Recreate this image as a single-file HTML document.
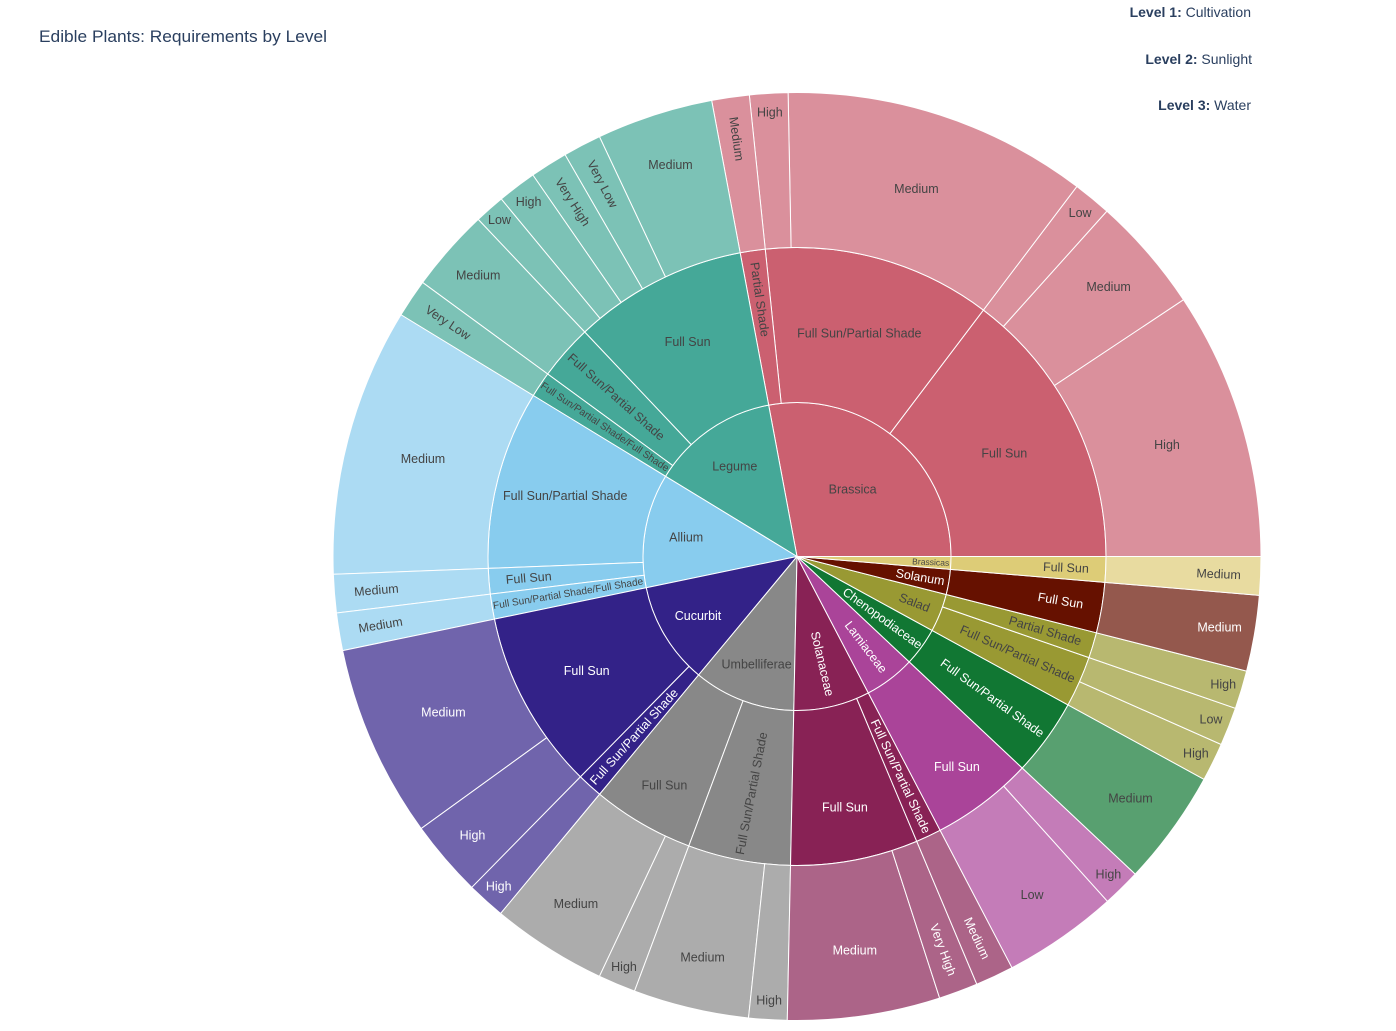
<!DOCTYPE html>
<html><head><meta charset="utf-8"><style>
html,body{margin:0;padding:0;background:#fff;}
svg{display:block;font-family:"Liberation Sans",sans-serif;}
</style></head><body>
<svg id="s" width="1396" height="1031" viewBox="0 0 1396 1031" xmlns="http://www.w3.org/2000/svg">
<text x="39" y="42" font-size="17" fill="#2a3f5f" textLength="288" lengthAdjust="spacingAndGlyphs">Edible Plants: Requirements by Level</text>
<text x="1251" y="17" font-size="14" fill="#2a3f5f" text-anchor="end"><tspan font-weight="bold">Level 1:</tspan> Cultivation</text>
<text x="1252" y="64" font-size="14" fill="#2a3f5f" text-anchor="end"><tspan font-weight="bold">Level 2:</tspan> Sunlight</text>
<text x="1251" y="110" font-size="14" fill="#2a3f5f" text-anchor="end"><tspan font-weight="bold">Level 3:</tspan> Water</text>
<g id="g"></g>
</svg>
<script>
var CX=797,CY=556.5,R=[0,154,309,464];
var D=[
["Brassica",0,100.6,"#CB6070","#DA909C",[
 ["Full Sun",0,52.9,[["High",0,33.6],["Medium",33.6,48.1],["Low",48.1,52.9]]],
 ["Full Sun/Partial Shade",52.9,95.9,[["Medium",52.9,91.1],["High",91.1,95.9]]],
 ["Partial Shade",95.9,100.6,[["Medium",95.9,100.6]]]]],
["Legume",100.6,148.6,"#45A898","#7CC2B6",[
 ["Full Sun",100.6,133.4,[["Medium",100.6,115.2],["Very Low",115.2,120],["Very High",120,124.7],["High",124.7,129.6],["Low",129.6,133.4]]],
 ["Full Sun/Partial Shade",133.4,143.8,[["Medium",133.4,143.8]]],
 ["Full Sun/Partial Shade/Full Shade",143.8,148.6,[["Very Low",143.8,148.6]]]]],
["Allium",148.6,191.7,"#88CCEE","#ACDBF3",[
 ["Full Sun/Partial Shade",148.6,182.2,[["Medium",148.6,182.2]]],
 ["Full Sun",182.2,187,[["Medium",182.2,187]]],
 ["Full Sun/Partial Shade/Full Shade",187,191.7,[["Medium",187,191.7]]]]],
["Cucurbit",191.7,230.3,"#332288","#7064AC",[
 ["Full Sun",191.7,225.5,[["Medium",191.7,215.9],["High",215.9,225.5]]],
 ["Full Sun/Partial Shade",225.5,230.3,[["High",225.5,230.3]]]]],
["Umbelliferae",230.3,268.8,"#888888","#ACACAC",[
 ["Full Sun",230.3,249.5,[["Medium",230.3,244.8],["High",244.8,249.5]]],
 ["Full Sun/Partial Shade",249.5,268.8,[["Medium",249.5,264],["High",264,268.8]]]]],
["Solanaceae",268.8,297.6,"#882255","#AC6488",[
 ["Full Sun",268.8,292.8,[["Medium",268.8,287.9],["Very High",287.9,292.8]]],
 ["Full Sun/Partial Shade",292.8,297.6,[["Medium",292.8,297.6]]]]],
["Lamiaceae",297.6,316.8,"#AA4499","#C47CB8",[
 ["Full Sun",297.6,316.8,[["Low",297.6,312],["High",312,316.8]]]]],
["Chenopodiaceae",316.8,331.3,"#117733","#58A070",[
 ["Full Sun/Partial Shade",316.8,331.3,[["Medium",316.8,331.3]]]]],
["Salad",331.3,345.7,"#999933","#B8B870",[
 ["Full Sun/Partial Shade",331.3,340.9,[["High",331.3,336.1],["Low",336.1,340.9]]],
 ["Partial Shade",340.9,345.7,[["High",340.9,345.7]]]]],
["Solanum",345.7,355.2,"#661100","#94584D",[
 ["Full Sun",345.7,355.2,[["Medium",345.7,355.2]]]]],
["Brassicas",355.2,360,"#DDCC77","#E8DBA0",[
 ["Full Sun",355.2,360,[["Medium",355.2,360]]]]]
];
var g=document.getElementById('g'),NS="http://www.w3.org/2000/svg";
var cv=document.createElement('canvas').getContext('2d');
var FS=12.5;
function P(r,a){a=a*Math.PI/180;return [CX+r*Math.cos(a),CY-r*Math.sin(a)];}
function wedge(r0,r1,a0,a1,fill){
 var p=document.createElementNS(NS,'path');var big=(a1-a0)>180?1:0;var d;
 var A=P(r1,a0),B=P(r1,a1);
 if(r0==0){d="M"+CX+","+CY+"L"+A+"A"+r1+","+r1+" 0 "+big+" 0 "+B+"Z";}
 else{var C=P(r0,a1),E=P(r0,a0);d="M"+A+"A"+r1+","+r1+" 0 "+big+" 0 "+B+"L"+C+"A"+r0+","+r0+" 0 "+big+" 1 "+E+"Z";}
 p.setAttribute('d',d);p.setAttribute('fill',fill);p.setAttribute('stroke','#fff');p.setAttribute('stroke-width','1');g.appendChild(p);}
function bright(h){var r=parseInt(h.substr(1,2),16),gg=parseInt(h.substr(3,2),16),b=parseInt(h.substr(5,2),16);return (r*299+gg*587+b*114)/1000;}
function inside(x,y,r0,r1,a0,a1){var dx=x-CX,dy=CY-y;var r=Math.sqrt(dx*dx+dy*dy);if(r<r0||r>r1)return false;if(r<2)return true;var a=Math.atan2(dy,dx)*180/Math.PI;if(a<0)a+=360;if(a1>=359.99&&a<1)a+=360;return a>=a0&&a<=a1;}
function fits(cx,cy,w,h,rot,r0,r1,a0,a1){var c=Math.cos(rot*Math.PI/180),s=Math.sin(rot*Math.PI/180);
 for(var i=-1;i<=1;i+=0.25)for(var j=-1;j<=1;j+=1){var lx=i*w/2,ly=j*h/2;var x=cx+lx*c-ly*s,y=cy+lx*s+ly*c;if(!inside(x,y,r0,r1,a0,a1))return false;}return true;}
function maxScale(pc,w,h,ro,r0,r1,a0,a1){
 if(fits(pc[0],pc[1],w,h,ro,r0,r1,a0,a1))return 1;var lo=0,hi=1;
 for(var it=0;it<16;it++){var m=(lo+hi)/2;if(fits(pc[0],pc[1],w*m,h*m,ro,r0,r1,a0,a1))lo=m;else hi=m;}return lo;}
function label(t,r0,r1,a0,a1,col){
 var am=(a0+a1)/2,al=(a1-a0)/2*Math.PI/180;
 cv.font=FS+"px 'Liberation Sans'";var w=cv.measureText(t).width+2,h=14;
 var bestRho=-1,bestD=(r0+r1)/2;
 for(var d=r0+0.5;d<r1;d+=0.5){var rho=Math.min(r1-d,d-r0);if(al<Math.PI/2)rho=Math.min(rho,d*Math.sin(al));if(r0==0&&al<Math.PI/2){rho=Math.min(r1-d,d*Math.sin(al));}
  if(rho>bestRho+1e-6){bestRho=rho;bestD=d;}}
 var diam=Math.sqrt(w*w+h*h);var hs=Math.min(1,2*bestRho/diam);
 var res={s:hs,r:0,rad:bestD};
 if(hs<1){
  var rot=-am;while(rot<=-90)rot+=180;while(rot>90)rot-=180;
  var bs=0,rs=[];
  for(var r=r0+2;r<r1-1;r+=1){var s=maxScale(P(r,am),w,h,rot,r0,r1,a0,a1);rs.push([r,s]);if(s>bs)bs=s;}
  if(bs>hs){var mn=1e9,mx=-1;rs.forEach(function(q){if(q[1]>=bs-0.01){mn=Math.min(mn,q[0]);mx=Math.max(mx,q[0]);}});
   var c=(mn+mx)/2;var pos=(c+2*mx)/3;res={s:bs,r:rot,rad:pos};}
 }
 var fs=FS*res.s;if(fs<4)fs=4;
 var pc=P(res.rad,am);
 var e=document.createElementNS(NS,'text');e.textContent=t;e.setAttribute('font-size',fs.toFixed(2));
 e.setAttribute('fill',col);e.setAttribute('text-anchor','middle');e.setAttribute('dominant-baseline','central');
 e.setAttribute('transform','translate('+pc[0].toFixed(1)+','+pc[1].toFixed(1)+') rotate('+res.r.toFixed(1)+')');
 g.appendChild(e);}
var L=[];
D.forEach(function(n){
 var tc=bright(n[3])>128?"#444":"#fff",lc=bright(n[4])>128?"#444":"#fff";
 wedge(0,R[1],n[1],n[2],n[3]);L.push([n[0],0,R[1],n[1],n[2],tc]);
 n[5].forEach(function(c){wedge(R[1],R[2],c[1],c[2],n[3]);L.push([c[0],R[1],R[2],c[1],c[2],tc]);
  c[3].forEach(function(l){wedge(R[2],R[3],l[1],l[2],n[4]);L.push([l[0],R[2],R[3],l[1],l[2],lc]);});});});
L.forEach(function(l){label(l[0],l[1],l[2],l[3],l[4],l[5]);});
</script>
</body></html>
